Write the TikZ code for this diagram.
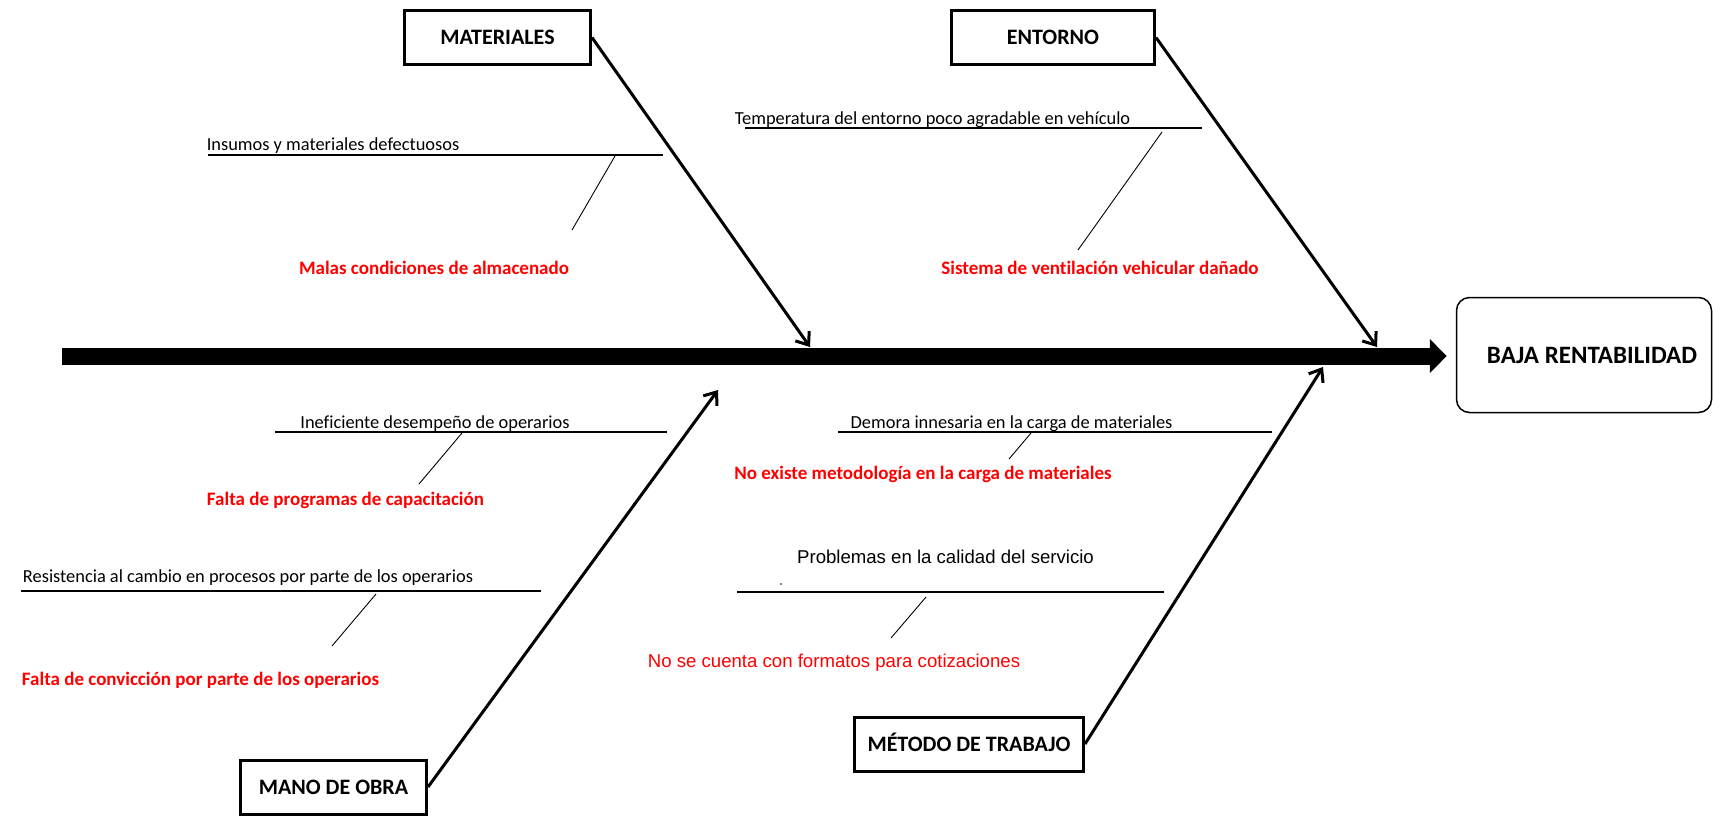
\documentclass[tikz,border=0pt]{standalone}
\usepackage{fontspec}
\setmainfont[Ligatures=NoCommon]{Carlito}
\newfontfamily\arialfont{Liberation Sans}
\usetikzlibrary{arrows.meta}
\definecolor{causered}{RGB}{255,0,0}

\tikzset{
  catbox/.style={draw, line width=3pt, minimum width=#1, minimum height=54pt,
    inner sep=0pt, text height=14.2pt, text depth=0pt,
    font=\fontsize{22}{26}\selectfont\bfseries},
  effectbox/.style={draw, line width=1.5pt, rounded corners=13pt,
    minimum width=255pt, minimum height=115pt, inner sep=0pt,
    font=\fontsize{25}{29}\selectfont\bfseries},
  spine/.style={line width=17pt, -{Triangle[length=17pt,width=33pt]}},
  rib/.style={line width=3pt, -{Straight Barb[length=11pt,width=17pt]}},
  branch/.style={line width=1.3pt},
  twig/.style={line width=0.9pt},
  causetext/.style={inner sep=0pt, anchor=base, font=\fontsize{18.4}{22}\selectfont},
  rootbold/.style={inner sep=0pt, anchor=base, text=causered,
    font=\fontsize{19}{23}\selectfont\bfseries},
  ariatext/.style={inner sep=0pt, anchor=base, font=\arialfont\fontsize{18.6}{22}\selectfont},
}

\begin{document}
\begin{tikzpicture}[x=1pt,y=-1pt]
\useasboundingbox (0,0) rectangle (1713,815);

% effect and spine
\node[effectbox] (effect) at (1584,355) {\hspace*{16pt}BAJA RENTABILIDAD};
\coordinate (spinestart) at (62,356);
\draw[spine] (spinestart) -- ([xshift=-9pt]effect.west |- spinestart);

% category boxes
\node[catbox=186pt] (mat) at (497.5,37.5) {MATERIALES};
\node[catbox=203pt] (ent) at (1053,37.5) {ENTORNO};
\node[catbox=186pt] (mano) at (333.5,787) {MANO DE OBRA};
\node[catbox=229pt] (met) at (969,744) {MÉTODO DE TRABAJO};

% ribs into the spine
\coordinate (matend) at (810,347);
\coordinate (entend) at (1377,347);
\coordinate (manoend) at (718,390);
\coordinate (metend) at (1323,367);
\draw[rib] (mat.east) -- (matend);
\draw[rib] (ent.east) -- (entend);
\draw[rib] (mano.east) -- (manoend);
\draw[rib] (met.east) -- (metend);

% MATERIALES branch
\node[causetext] (insumos) at (333,150) {Insumos y materiales defectuosos};
\coordinate (l1a) at (208,155); \coordinate (l1b) at (663,155);
\draw[branch] (l1a) -- (l1b);
\coordinate (d1a) at (615,156); \coordinate (d1b) at (572,230);
\draw[twig] (d1a) -- (d1b);
\node[rootbold] (malas) at (434,274) {Malas condiciones de almacenado};

% ENTORNO branch
\node[causetext] (temp) at (932.5,124) {Temperatura del entorno poco agradable en vehículo};
\coordinate (l2a) at (745,128); \coordinate (l2b) at (1202,128);
\draw[branch] (l2a) -- (l2b);
\coordinate (d2a) at (1162,132); \coordinate (d2b) at (1078,250);
\draw[twig] (d2a) -- (d2b);
\node[rootbold] (sist) at (1100,274) {Sistema de ventilación vehicular dañado};

% MANO DE OBRA branches
\node[causetext] (inef) at (435,428) {Ineficiente desempeño de operarios};
\coordinate (l3a) at (275,432); \coordinate (l3b) at (667,432);
\draw[branch] (l3a) -- (l3b);
\coordinate (d3a) at (462,433); \coordinate (d3b) at (419,484);
\draw[twig] (d3a) -- (d3b);
\node[rootbold] (progr) at (345.5,505) {Falta de programas de capacitación};

\node[causetext] (resist) at (248,582) {Resistencia al cambio en procesos por parte de los operarios};
\coordinate (l4a) at (21,591); \coordinate (l4b) at (541,591);
\draw[branch] (l4a) -- (l4b);
\coordinate (d4a) at (376,594); \coordinate (d4b) at (332,646);
\draw[twig] (d4a) -- (d4b);
\node[rootbold] (conv) at (200.5,685) {Falta de convicción por parte de los operarios};

% MÉTODO DE TRABAJO branches
\node[causetext] (demora) at (1011.5,428) {Demora innesaria en la carga de materiales};
\coordinate (l5a) at (838,432); \coordinate (l5b) at (1272,432);
\draw[branch] (l5a) -- (l5b);
\coordinate (d5a) at (1031,433); \coordinate (d5b) at (1009,459);
\draw[twig] (d5a) -- (d5b);
\node[rootbold] (metod) at (923,479) {No existe metodología en la carga de materiales};

\node[ariatext] (probl) at (945.5,563) {Problemas en la calidad del servicio};
\fill (781,584) circle (0.8pt);
\coordinate (l6a) at (737,592); \coordinate (l6b) at (1164,592);
\draw[line width=1.8pt] (l6a) -- (l6b);
\coordinate (d6a) at (926,597); \coordinate (d6b) at (891,638);
\draw[twig] (d6a) -- (d6b);
\node[ariatext, text=causered] (format) at (834,667) {No se cuenta con formatos para cotizaciones};
\end{tikzpicture}
\end{document}
